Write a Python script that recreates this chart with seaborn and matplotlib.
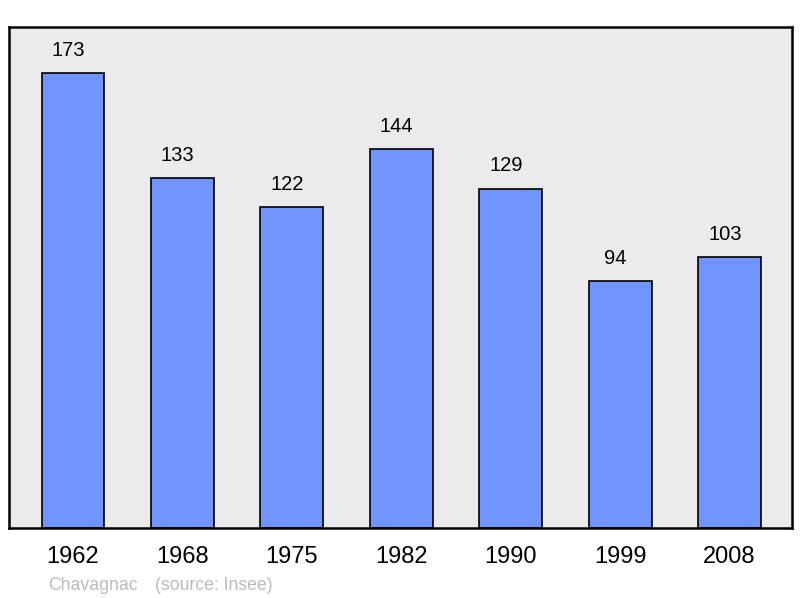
import matplotlib
matplotlib.use("Agg")
import matplotlib.pyplot as plt
import seaborn as sns
import pandas as pd

years = ["1962", "1968", "1975", "1982", "1990", "1999", "2008"]
population = [173, 133, 122, 144, 129, 94, 103]
commune = "Chavagnac"
source = "(source: Insee)"

df = pd.DataFrame({"year": years, "population": population})

sns.set_style("white")
plt.rcParams["font.family"] = ["Liberation Sans", "DejaVu Sans"]

fig = plt.figure(figsize=(8, 5.98), dpi=100)
ax = fig.add_axes([0.01125, 0.117, 0.97875, 0.838])
ax.set_facecolor("#ebebeb")

sns.barplot(data=df, x="year", y="population", color="#7095ff",
            saturation=1, width=0.575, edgecolor="black", linewidth=1.2, ax=ax)

# value labels sit slightly left of the bar centre in the original
for i, v in enumerate(population):
    ax.annotate(str(v), (i, v), xytext=(-3.5, 9.5), textcoords="offset points",
                ha="center", va="bottom", fontsize=14.5, color="black")

ax.set_xlim(-0.585, 6.57)
ax.set_ylim(0, 190.5)
ax.set_xlabel("")
ax.set_ylabel("")
ax.set_yticks([])
ax.tick_params(axis="x", length=0, labelsize=17, pad=13, labelcolor="black")
for s in ax.spines.values():
    s.set_visible(True)
    s.set_color("black")
    s.set_linewidth(1.8)

fig.text(48 / 800, 1 - 590 / 598, commune, color="#bbbbbb", fontsize=12.7)
fig.text(155 / 800, 1 - 590 / 598, source, color="#bbbbbb", fontsize=12.7)

fig.savefig("out.png", dpi=100)
